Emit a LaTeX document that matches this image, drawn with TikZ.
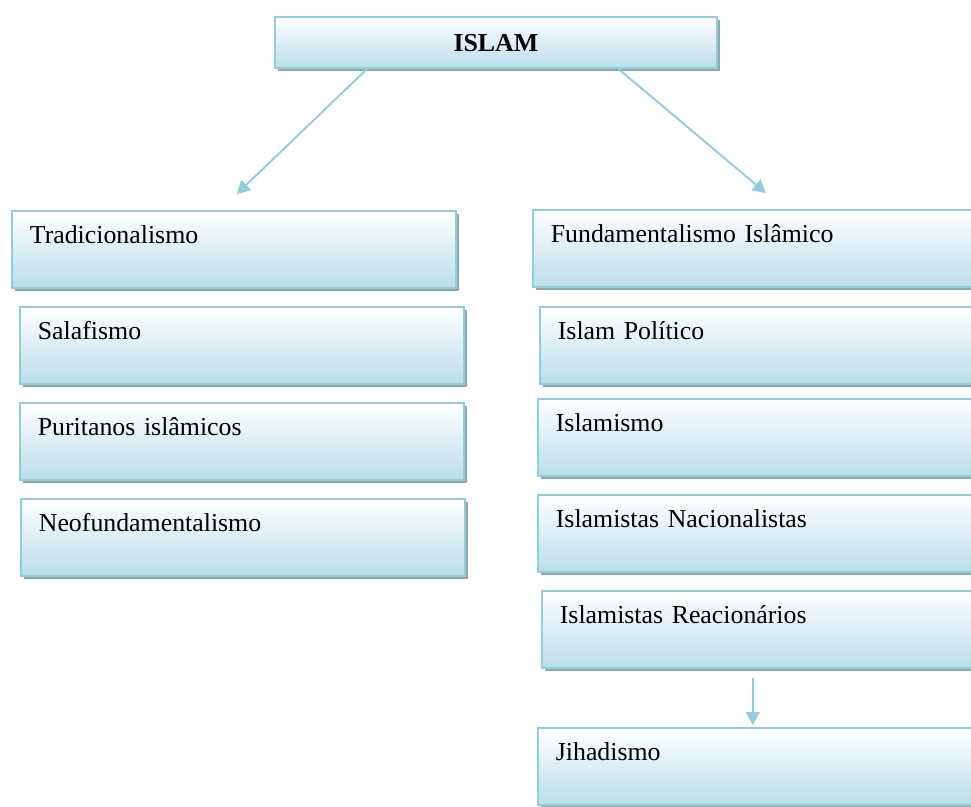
\documentclass[tikz,border=0pt]{standalone}
\usepackage{fontspec}
\setmainfont{Liberation Serif}
\usetikzlibrary{arrows.meta,positioning,calc,shadows}
\definecolor{boxline}{HTML}{92CDDC}
\definecolor{boxfill}{HTML}{B9DEE9}
\definecolor{boxshade}{HTML}{8FA6AF}

\begin{document}
\begin{tikzpicture}[x=0.02cm, y=-0.02cm,
  box/.style={draw=boxline, line width=1pt, top color=white, bottom color=boxfill,
    drop shadow={shadow xshift=0.06cm, shadow yshift=-0.06cm, fill=boxshade, opacity=1},
    anchor=north west, inner xsep=0.36cm, inner ysep=0pt, text width=8.16cm, align=left,
    text height=0.66cm, text depth=0.88cm, font=\fontsize{14.7}{17}\selectfont},
  topbox/.style={box, text width=8.12cm, align=center, inner ysep=0.33cm,
    text height=0.36cm, text depth=0pt, font=\fontsize{14.7}{17}\selectfont\bfseries},
  link/.style={-{Triangle[length=0.26cm,width=0.28cm]}, draw=boxline, line width=1.1pt}]
  \clip (0,0) rectangle (971,806);
  \fill[white] (0,0) rectangle (971,806);
  % Root
  \node[topbox] (islam) at (274,16) {ISLAM};
  % Left column
  \node[box] (trad) at (11,210) {Tradicionalismo};
  \node[box] (sala) at (19,306) {Salafismo};
  \node[box] (puri) at (19,402) {Puritanos islâmicos};
  \node[box] (neo) at (20,498) {Neofundamentalismo};
  % Right column
  \node[box] (fund) at (532,209) {Fundamentalismo Islâmico};
  \node[box] (poli) at (539,306) {Islam Político};
  \node[box] (ismo) at (537,398) {Islamismo};
  \node[box] (naci) at (537,494) {Islamistas Nacionalistas};
  \node[box] (reac) at (541,590) {Islamistas Reacionários};
  \node[box] (jihad) at (537,727) {Jihadismo};
  % Links
  \draw[link] ($(islam.south west)!0.21!(islam.south east)$) -- ([xshift=0.06cm,yshift=0.32cm]trad.north);
  \draw[link] ($(islam.south west)!0.776!(islam.south east)$) -- ([xshift=0.22cm,yshift=0.32cm]fund.north);
  \draw[link] ([xshift=-0.22cm,yshift=-0.18cm]reac.south) -- ([xshift=-0.22cm,yshift=0.04cm]reac.south |- jihad.north);
\end{tikzpicture}
\end{document}
